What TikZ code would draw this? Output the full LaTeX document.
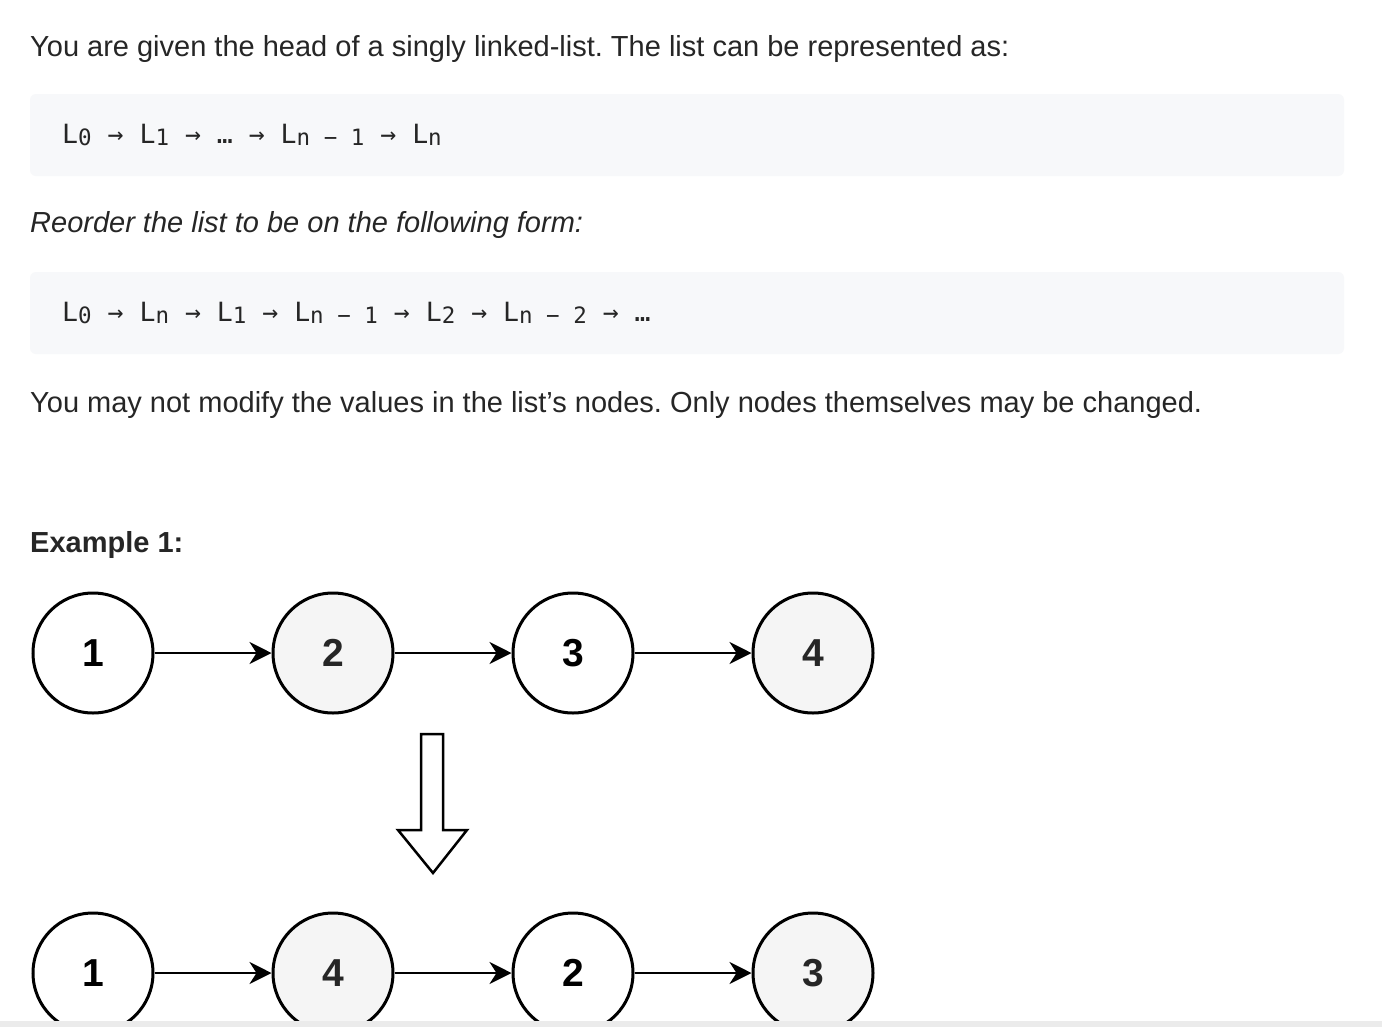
\documentclass[tikz,border=0pt]{standalone}
\usepackage{fontspec}
\setmainfont{Liberation Sans}
\newfontfamily\codefont{DejaVu Sans Mono}
\usetikzlibrary{arrows.meta}
\definecolor{txt}{HTML}{262626}
\definecolor{codebg}{HTML}{F7F8FA}
\definecolor{nodegray}{HTML}{F5F5F5}
\definecolor{rulegray}{HTML}{EBEBEB}
\newcommand{\lsub}[1]{\raisebox{-0.1em}{\fontsize{22.5}{23}\selectfont #1}}
\frenchspacing
\begin{document}
\begin{tikzpicture}[x=1pt,y=-1pt,
  para/.style={anchor=base west,inner sep=0pt,text=txt,font=\fontsize{29}{33}\selectfont},
  code/.style={anchor=base west,inner sep=0pt,text=txt,font=\codefont\fontsize{26.5}{30}\selectfont},
  codebox/.style={fill=codebg,rounded corners=6pt},
  item/.style={circle,draw=black,line width=3pt,minimum size=120pt,inner sep=0pt,fill=white,
    font=\bfseries\fontsize{39}{39}\selectfont},
  itemg/.style={item,fill=nodegray,text=txt},
  link/.style={line width=2.5pt,-{Stealth[length=22pt,width=22pt,inset=7pt]}},
  hollow/.style={draw=black,line width=2.5pt,fill=white,line join=miter}]
  \useasboundingbox (0,0) rectangle (1382,1026);
  \fill[white] (0,0) rectangle (1382,1026);
  \path[codebox] (30,94) rectangle (1344,176);
  \path[codebox] (30,272) rectangle (1344,354);
  \node[para] at (30,56) (intro) {You are given the head of a singly linked-list. The list can be represented as:};
  \node[code] at (62,143) (form1) {L\lsub{0} → L\lsub{1} → … → L\lsub{n − 1} → L\lsub{n}};
  \node[para,font=\itshape\fontsize{29}{33}\selectfont] at (30,232) (task) {Reorder the list to be on the following form:};
  \node[code] at (62,321) (form2) {L\lsub{0} → L\lsub{n} → L\lsub{1} → L\lsub{n − 1} → L\lsub{2} → L\lsub{n − 2} → …};
  \node[para] at (30,412) (note) {You may not modify the values in the list's nodes. Only nodes themselves may be changed.};
  \node[para,font=\bfseries\fontsize{29}{33}\selectfont] at (30,552) (example) {Example 1:};
  \node[item]  at ( 93,653) (a1) {1};
  \node[itemg] at (333,653) (a2) {2};
  \node[item]  at (573,653) (a3) {3};
  \node[itemg] at (813,653) (a4) {4};
  \draw[link] (a1) -- (a2);
  \draw[link] (a2) -- (a3);
  \draw[link] (a3) -- (a4);
  \draw[hollow] (421,734) -- (443,734) -- (443,830) -- (467,830) -- (433,873) -- (398,830) -- (421,830) -- cycle;
  \node[item]  at ( 93,973) (b1) {1};
  \node[itemg] at (333,973) (b2) {4};
  \node[item]  at (573,973) (b3) {2};
  \node[itemg] at (813,973) (b4) {3};
  \draw[link] (b1) -- (b2);
  \draw[link] (b2) -- (b3);
  \draw[link] (b3) -- (b4);
  \fill[rulegray] (0,1021) rectangle (1382,1040);
\end{tikzpicture}
\end{document}
